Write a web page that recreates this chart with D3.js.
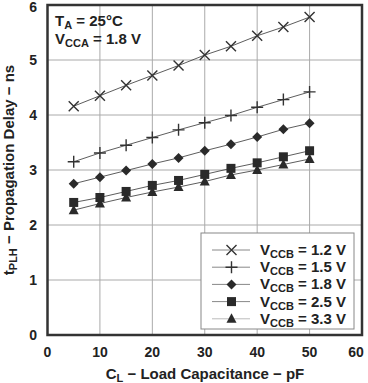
<!DOCTYPE html>
<html>
<head>
<meta charset="utf-8">
<script src="https://cdnjs.cloudflare.com/ajax/libs/d3/7.8.5/d3.min.js"></script>
<style>
  body { margin: 0; background: #fff; }
  text { font-family: 'Liberation Sans', Arial, sans-serif; font-weight: bold; fill: #222; }
</style>
</head>
<body>
<div id="chart"></div>
<script>
// data
var loadCap = [5, 10, 15, 20, 25, 30, 35, 40, 45, 50];
var vccbLabels = ["1.2", "1.5", "1.8", "2.5", "3.3"];
var delay12 = [4.16, 4.35, 4.54, 4.72, 4.90, 5.09, 5.25, 5.44, 5.60, 5.78];
var delay15 = [3.15, 3.31, 3.45, 3.59, 3.73, 3.86, 3.99, 4.14, 4.28, 4.42];
var delay18 = [2.75, 2.87, 2.99, 3.11, 3.22, 3.35, 3.47, 3.60, 3.74, 3.85];
var delay25 = [2.41, 2.50, 2.61, 2.72, 2.81, 2.92, 3.03, 3.13, 3.24, 3.35];
var delay33 = [2.27, 2.39, 2.50, 2.60, 2.69, 2.79, 2.91, 3.00, 3.10, 3.20];
var xTicks = [0, 10, 20, 30, 40, 50, 60];
var yTicks = [0, 1, 2, 3, 4, 5, 6];

var series = [
  {label: vccbLabels[0], values: delay12, shape: "x"},
  {label: vccbLabels[1], values: delay15, shape: "plus"},
  {label: vccbLabels[2], values: delay18, shape: "diamond"},
  {label: vccbLabels[3], values: delay25, shape: "square"},
  {label: vccbLabels[4], values: delay33, shape: "triangle"}
];

var width = 368, height = 383;
var svg = d3.select("#chart").append("svg")
  .attr("width", width).attr("height", height);

var x = d3.scaleLinear().domain([0, 60]).range([47.5, 362]);
var y = d3.scaleLinear().domain([0, 6]).range([335, 5]);

// grid
var grid = svg.append("g");
grid.selectAll(".gx").data(xTicks.slice(1, -1)).enter().append("line")
  .attr("x1", d => x(d)).attr("x2", d => x(d))
  .attr("y1", y(0)).attr("y2", y(6))
  .attr("stroke", "#aaa").attr("stroke-width", 1);
grid.selectAll(".gy").data(yTicks.slice(1, -1)).enter().append("line")
  .attr("x1", x(0)).attr("x2", x(60))
  .attr("y1", d => y(d)).attr("y2", d => y(d))
  .attr("stroke", "#aaa").attr("stroke-width", 1);

// markers
function drawMarker(g, shape, cx, cy) {
  if (shape == "x") {
    g.append("path").attr("d", "M" + (cx-5) + "," + (cy-5) + "L" + (cx+5) + "," + (cy+5) +
      "M" + (cx-5) + "," + (cy+5) + "L" + (cx+5) + "," + (cy-5))
      .attr("stroke", "#333").attr("stroke-width", 1.4).attr("fill", "none");
  } else if (shape == "plus") {
    g.append("path").attr("d", "M" + (cx-6) + "," + cy + "L" + (cx+6) + "," + cy +
      "M" + cx + "," + (cy-6) + "L" + cx + "," + (cy+6))
      .attr("stroke", "#333").attr("stroke-width", 1.4).attr("fill", "none");
  } else if (shape == "diamond") {
    g.append("path").attr("d", "M" + cx + "," + (cy-5) + "L" + (cx+5) + "," + cy +
      "L" + cx + "," + (cy+5) + "L" + (cx-5) + "," + cy + "Z").attr("fill", "#2a2a2a");
  } else if (shape == "square") {
    g.append("rect").attr("x", cx-4.5).attr("y", cy-4.5).attr("width", 9).attr("height", 9)
      .attr("fill", "#2a2a2a");
  } else {
    g.append("path").attr("d", "M" + cx + "," + (cy-5.5) + "L" + (cx+5) + "," + (cy+4) +
      "L" + (cx-5) + "," + (cy+4) + "Z").attr("fill", "#2a2a2a");
  }
}

var line = d3.line().x((d, i) => x(loadCap[i])).y(d => y(d));
series.forEach(function(s) {
  var g = svg.append("g");
  g.append("path").datum(s.values).attr("d", line)
    .attr("fill", "none").attr("stroke", "#333").attr("stroke-width", 0.8);
  s.values.forEach(function(v, i) { drawMarker(g, s.shape, x(loadCap[i]), y(v)); });
});

// legend
var lg = svg.append("g");
lg.append("rect").attr("x", 201).attr("y", 233).attr("width", 153).attr("height", 96)
  .attr("fill", "#fff").attr("stroke", "#888").attr("stroke-width", 1);
series.forEach(function(s, i) {
  var ly = 250 + i * 17.2;
  lg.append("line").attr("x1", 212).attr("x2", 250).attr("y1", ly).attr("y2", ly)
    .attr("stroke", i == 4 ? "#bbb" : "#888").attr("stroke-width", 1);
  drawMarker(lg, s.shape, 231.5, ly);
  var t = lg.append("text").attr("x", 260).attr("y", ly + 5).style("font-size", "15px");
  t.append("tspan").text("V");
  t.append("tspan").attr("dy", 3).style("font-size", "11px").text("CCB");
  t.append("tspan").attr("dy", -3).text(" = " + s.label + " V");
});

// frame
svg.append("rect").attr("x", x(0)).attr("y", y(6))
  .attr("width", x(60) - x(0)).attr("height", y(0) - y(6))
  .attr("fill", "none").attr("stroke", "#333").attr("stroke-width", 2.5);

// tick labels
svg.selectAll(".xl").data(xTicks).enter().append("text")
  .attr("x", d => Math.min(x(d), 356)).attr("y", 357).attr("text-anchor", "middle")
  .style("font-size", "14px").text(d => d);
svg.selectAll(".yl").data(yTicks).enter().append("text")
  .attr("x", 37).attr("y", d => Math.max(y(d) + 5, 12)).attr("text-anchor", "end")
  .style("font-size", "14px").text(d => d);

// annotation
var a1 = svg.append("text").attr("x", 55).attr("y", 26).style("font-size", "15px");
a1.append("tspan").text("T");
a1.append("tspan").attr("dy", 3).style("font-size", "11px").text("A");
a1.append("tspan").attr("dy", -3).text(" = 25°C");
var a2 = svg.append("text").attr("x", 55).attr("y", 44).style("font-size", "15px");
a2.append("tspan").text("V");
a2.append("tspan").attr("dy", 3).style("font-size", "11px").text("CCA");
a2.append("tspan").attr("dy", -3).text(" = 1.8 V");

// axis titles
var xt = svg.append("text").attr("x", 205).attr("y", 379).attr("text-anchor", "middle")
  .style("font-size", "15px");
xt.append("tspan").text("C");
xt.append("tspan").attr("dy", 3).style("font-size", "11px").text("L");
xt.append("tspan").attr("dy", -3).text(" − Load Capacitance − pF");

var yt = svg.append("text").attr("transform", "translate(14,170) rotate(-90)")
  .attr("text-anchor", "middle").style("font-size", "15px");
yt.append("tspan").text("t");
yt.append("tspan").attr("dy", 3).style("font-size", "11px").text("PLH");
yt.append("tspan").attr("dy", -3).text(" − Propagation Delay − ns");
</script>
</body>
</html>
